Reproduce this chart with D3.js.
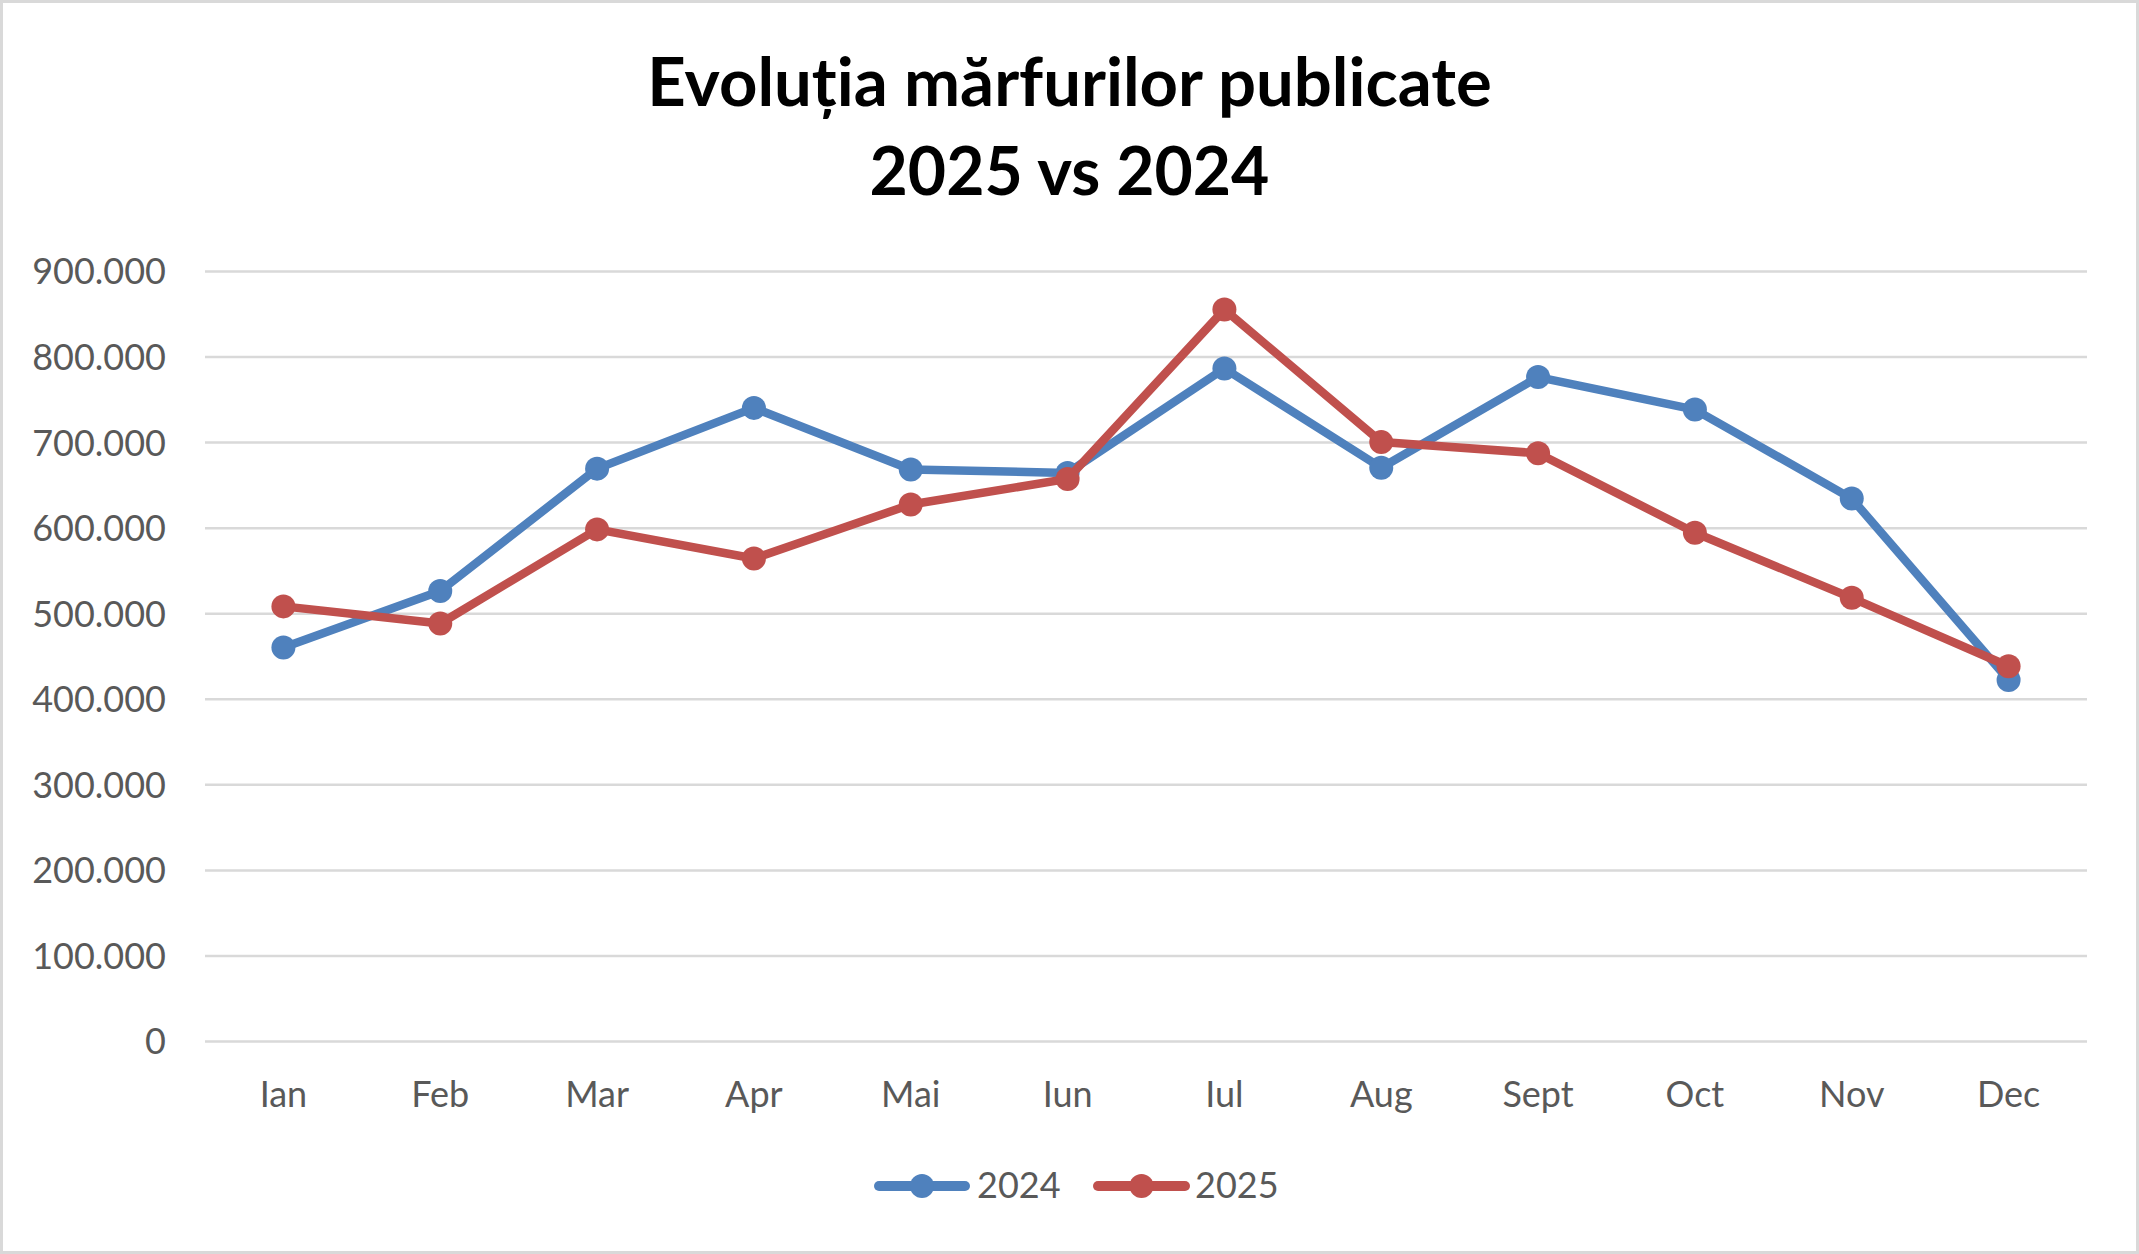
<!DOCTYPE html>
<html>
<head>
<meta charset="utf-8">
<script src="https://cdn.jsdelivr.net/npm/d3@7"></script>
<style>
  html, body { margin: 0; padding: 0; background: #fff; }
  svg { display: block; }
</style>
</head>
<body>
<svg id="chart" width="2139" height="1254"></svg>
<script>
const months = ["Ian","Feb","Mar","Apr","Mai","Iun","Iul","Aug","Sept","Oct","Nov","Dec"];
const values2024 = [460000, 526000, 669000, 740000, 668000, 664000, 786000, 670000, 776000, 738000, 634000, 422000];
const values2025 = [508000, 488000, 598000, 564000, 627000, 657000, 855000, 700000, 687000, 594000, 518000, 438000];
const yTicks = [0, 100000, 200000, 300000, 400000, 500000, 600000, 700000, 800000, 900000];
const seriesNames = ["2024", "2025"];
const seriesColors = ["#4f81bd", "#c0504d"];
const titleLines = ["Evoluția mărfurilor publicate", "2025 vs 2024"];

const W = 2139, H = 1254;
const plot = {left: 205, right: 2087, top: 271, bottom: 1041};
const font = "Lato, 'Noto Sans', sans-serif";
const textColor = "#595959";
const gridColor = "#d9d9d9";

const svg = d3.select("#chart");
svg.append("rect").attr("x", 1.5).attr("y", 1.5).attr("width", W - 3).attr("height", H - 3)
  .attr("fill", "#fff").attr("stroke", gridColor).attr("stroke-width", 3);

const x = d3.scaleBand().domain(months).range([plot.left, plot.right]);
const y = d3.scaleLinear().domain([0, 900000]).range([plot.bottom, plot.top]);

const loc = d3.formatLocale({decimal: ",", thousands: ".", grouping: [3], currency: ["", ""]});
const fmt = loc.format(",d");

// Y axis with gridlines
const yAxis = svg.append("g").attr("transform", `translate(${plot.left},0)`)
  .call(d3.axisLeft(y).tickValues(yTicks).tickFormat(fmt)
    .tickSize(-(plot.right - plot.left)).tickPadding(39));
yAxis.select(".domain").remove();
yAxis.selectAll(".tick line").attr("stroke", gridColor).attr("stroke-width", 2.5);
yAxis.selectAll(".tick text").attr("fill", textColor).attr("font-family", font)
  .attr("font-size", 36).attr("dy", "0.36em");

// X axis labels
const xAxis = svg.append("g").attr("transform", `translate(0,${plot.bottom})`)
  .call(d3.axisBottom(x).tickSize(0).tickPadding(40));
xAxis.select(".domain").remove();
xAxis.selectAll(".tick text").attr("fill", textColor).attr("font-family", font).attr("font-size", 36);

// Title
svg.append("text").attr("x", W / 2).attr("y", 106).attr("text-anchor", "middle")
  .attr("font-family", font).attr("font-weight", "bold").attr("font-size", 67).attr("fill", "#000")
  .text(titleLines[0]);
svg.append("text").attr("x", W / 2).attr("y", 195).attr("text-anchor", "middle")
  .attr("font-family", font).attr("font-weight", "bold").attr("font-size", 66).attr("fill", "#000")
  .text(titleLines[1]);

// Series
const series = [values2024, values2025];
const line = d3.line().x((d, i) => x(months[i]) + x.bandwidth() / 2).y(d => y(d));
series.forEach((vals, si) => {
  const g = svg.append("g");
  g.append("path").datum(vals).attr("d", line).attr("fill", "none")
    .attr("stroke", seriesColors[si]).attr("stroke-width", 8.5).attr("stroke-linejoin", "round")
    .attr("stroke-linecap", "round");
  g.selectAll("circle").data(vals).join("circle")
    .attr("cx", (d, i) => x(months[i]) + x.bandwidth() / 2)
    .attr("cy", d => y(d)).attr("r", 12).attr("fill", seriesColors[si]);
});

// Legend
const legendItems = [
  {x1: 874, x2: 970, tx: 977},
  {x1: 1093, x2: 1190, tx: 1195}
];
const ly = 1186;
legendItems.forEach((it, i) => {
  const g = svg.append("g");
  g.append("line").attr("x1", it.x1 + 5).attr("x2", it.x2 - 5).attr("y1", ly).attr("y2", ly)
    .attr("stroke", seriesColors[i]).attr("stroke-width", 10).attr("stroke-linecap", "round");
  g.append("circle").attr("cx", (it.x1 + it.x2) / 2).attr("cy", ly).attr("r", 12).attr("fill", seriesColors[i]);
  g.append("text").attr("x", it.tx).attr("y", 1198).attr("font-family", font).attr("font-size", 36)
    .attr("fill", textColor).text(seriesNames[i]);
});
</script>
</body>
</html>
